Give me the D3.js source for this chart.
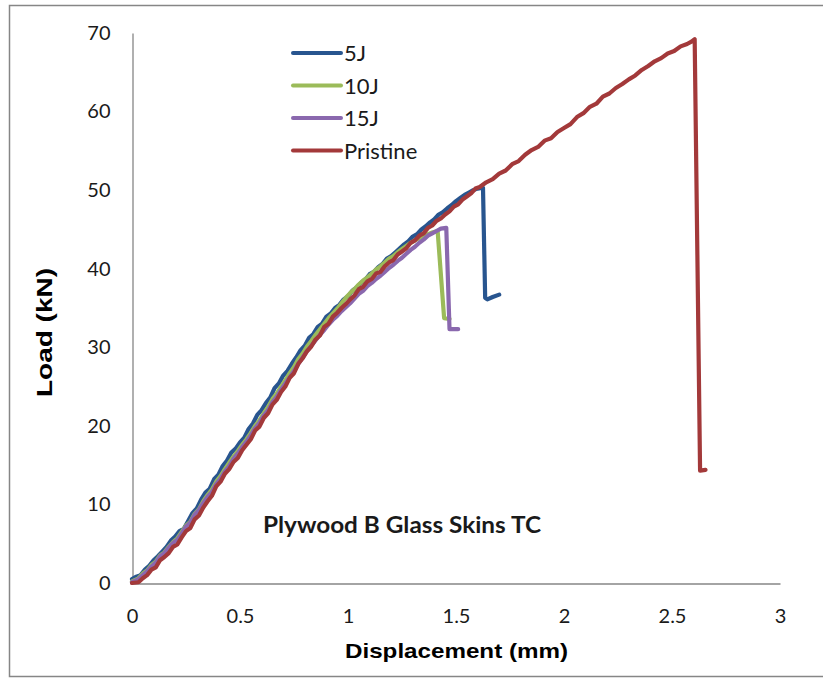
<!DOCTYPE html>
<html><head><meta charset="utf-8">
<script src="https://cdn.jsdelivr.net/npm/d3@7"></script>
<style>body{margin:0;background:#fff}svg{display:block}</style>
</head><body>
<svg id="c" width="823" height="678"></svg>
<script>
const seriesNames = ["5J","10J","15J","Pristine"];
const seriesColors = ["#28558f","#9bbb59","#8a68ae","#a3393a"];
const xTicks = [0,0.5,1,1.5,2,2.5,3];
const yTicks = [0,10,20,30,40,50,60,70];

const s5J_x = [0.00,0.02,0.04,0.06,0.08,0.10,0.12,0.14,0.16,0.18,0.20,0.22,0.24,0.26,0.28,0.30,0.32,0.34,0.36,0.38,0.40,0.42,0.44,0.46,0.48,0.50,0.52,0.54,0.56,0.58,0.60,0.62,0.64,0.66,0.68,0.70,0.72,0.74,0.76,0.78,0.80,0.82,0.84,0.86,0.88,0.90,0.92,0.94,0.96,0.98,1.00,1.02,1.04,1.06,1.08,1.10,1.12,1.14,1.16,1.18,1.20,1.22,1.24,1.26,1.28,1.30,1.32,1.34,1.36,1.38,1.40,1.42,1.44,1.46,1.48,1.50,1.52,1.54,1.56,1.58,1.60,1.625,1.635,1.645,1.67,1.70];
const s5J_y = [0.5,0.8,1.0,1.7,2.2,2.9,3.4,4.0,4.6,5.4,5.9,6.6,6.9,7.9,8.9,9.5,10.6,11.5,12.0,13.2,13.8,14.9,15.6,16.6,17.1,17.9,18.5,19.6,20.3,21.4,22.0,22.9,23.6,24.8,25.4,26.4,27.0,27.9,28.7,29.6,30.2,31.2,31.7,32.6,33.0,33.9,34.3,35.0,35.4,36.1,36.5,37.2,37.6,38.2,38.6,39.3,39.6,40.2,40.6,41.3,41.6,42.1,42.6,43.1,43.5,44.1,44.4,45.0,45.4,45.9,46.3,46.9,47.2,47.7,48.1,48.6,49.0,49.4,49.7,50.0,50.2,50.3,36.3,36.1,36.4,36.7];

const s10J_x = [0.00,0.03,0.05,0.07,0.09,0.11,0.13,0.15,0.17,0.19,0.21,0.23,0.25,0.27,0.29,0.31,0.33,0.35,0.37,0.39,0.41,0.43,0.45,0.47,0.49,0.51,0.53,0.55,0.57,0.59,0.61,0.63,0.65,0.67,0.69,0.71,0.73,0.75,0.77,0.79,0.81,0.83,0.85,0.87,0.89,0.91,0.93,0.95,0.97,0.99,1.01,1.03,1.05,1.07,1.09,1.11,1.13,1.15,1.17,1.19,1.21,1.23,1.25,1.27,1.29,1.31,1.33,1.35,1.37,1.39,1.415,1.445,1.47];
const s10J_y = [0.2,0.6,1.2,1.6,2.3,2.7,3.5,3.9,4.6,5.2,5.7,6.5,7.3,7.8,8.8,9.4,10.4,11.2,11.9,12.9,13.6,14.5,15.3,16.1,16.8,17.6,18.3,19.1,20.0,20.7,21.6,22.4,23.4,24.1,25.0,25.8,26.7,27.5,28.5,29.2,30.1,30.8,31.6,32.3,33.0,33.7,34.3,34.9,35.6,36.3,36.9,37.4,38.0,38.5,38.9,39.4,39.9,40.3,40.8,41.3,41.6,42.1,42.5,42.9,43.3,43.6,43.9,44.2,44.4,44.6,44.8,33.7,33.6];

const s15J_x = [0.00,0.03,0.05,0.07,0.09,0.11,0.13,0.15,0.17,0.19,0.21,0.23,0.25,0.27,0.29,0.31,0.33,0.35,0.37,0.39,0.41,0.43,0.45,0.47,0.49,0.51,0.53,0.55,0.57,0.59,0.61,0.63,0.65,0.67,0.69,0.71,0.73,0.75,0.77,0.79,0.81,0.83,0.85,0.87,0.89,0.91,0.93,0.95,0.97,0.99,1.01,1.03,1.05,1.07,1.09,1.11,1.13,1.15,1.17,1.19,1.21,1.23,1.25,1.27,1.29,1.31,1.33,1.35,1.37,1.39,1.41,1.43,1.455,1.47,1.51];
const s15J_y = [0.1,0.5,1.0,1.5,2.1,2.6,3.4,3.8,4.5,5.1,5.5,6.3,7.2,7.7,8.7,9.3,10.2,11.0,11.6,12.6,13.3,14.2,14.9,15.8,16.5,17.3,18.0,18.8,19.7,20.4,21.3,22.0,23.0,23.7,24.6,25.4,26.2,27.0,27.9,28.7,29.5,30.2,30.9,31.6,32.2,32.9,33.5,34.0,34.6,35.1,35.6,36.2,36.8,37.2,37.8,38.2,38.7,39.1,39.6,40.1,40.5,41.0,41.4,41.9,42.4,42.8,43.3,43.7,44.2,44.5,44.8,45.1,45.2,32.3,32.3];

const sPristine_x = [0.00,0.03,0.05,0.07,0.09,0.11,0.13,0.15,0.17,0.19,0.21,0.23,0.25,0.27,0.29,0.31,0.33,0.35,0.37,0.39,0.41,0.43,0.45,0.47,0.49,0.51,0.53,0.55,0.57,0.59,0.61,0.63,0.65,0.67,0.69,0.71,0.73,0.75,0.77,0.79,0.81,0.83,0.85,0.87,0.89,0.91,0.93,0.95,0.97,0.99,1.01,1.03,1.05,1.07,1.09,1.11,1.13,1.15,1.17,1.19,1.21,1.23,1.25,1.27,1.29,1.31,1.33,1.35,1.37,1.39,1.41,1.43,1.45,1.47,1.49,1.51,1.53,1.55,1.57,1.59,1.61,1.64,1.67,1.70,1.73,1.76,1.79,1.82,1.85,1.88,1.91,1.94,1.97,2.00,2.03,2.06,2.09,2.12,2.15,2.18,2.21,2.24,2.27,2.30,2.33,2.36,2.39,2.42,2.45,2.48,2.51,2.54,2.57,2.59,2.605,2.63,2.655];
const sPristine_y = [0.0,0.1,0.6,1.0,1.7,2.0,2.9,3.3,3.8,4.6,4.9,5.8,6.6,7.0,8.1,8.6,9.6,10.4,11.1,12.3,12.9,13.9,14.5,15.4,15.9,16.9,17.6,18.3,19.4,19.9,21.0,21.6,22.7,23.3,24.3,25.0,26.1,26.7,27.9,28.6,29.5,30.1,31.0,31.5,32.6,33.0,33.9,34.4,35.0,35.5,36.1,36.6,37.4,37.7,38.4,38.7,39.4,39.6,40.3,40.8,41.1,41.8,42.2,42.6,43.3,43.6,44.2,44.5,45.2,45.5,46.1,46.4,46.9,47.3,47.9,48.2,48.8,49.2,49.6,50.2,50.4,51.0,51.4,52.1,52.5,53.3,53.7,54.5,55.1,55.5,56.3,56.6,57.4,57.9,58.4,59.3,59.8,60.6,61.0,61.9,62.3,63.0,63.5,64.1,64.6,65.3,65.8,66.4,66.8,67.4,67.7,68.3,68.6,68.9,69.2,14.3,14.4];

const seriesX = [s5J_x, s10J_x, s15J_x, sPristine_x];
const seriesY = [s5J_y, s10J_y, s15J_y, sPristine_y];

const svg = d3.select("#c");
const x = d3.scaleLinear().domain([0,3]).range([132,780]);
const y = d3.scaleLinear().domain([0,70]).range([583,33]);
const axisColor = "#868686";
const bodyFont = "Lato, 'Open Sans', sans-serif";
const titleFont = "'Liberation Sans', Arial, sans-serif";

// outer chart border
svg.append("rect").attr("x",9.5).attr("y",5.5).attr("width",830).attr("height",671)
  .attr("fill","none").attr("stroke",axisColor).attr("stroke-width",1.5);

// axes
const gx = svg.append("g").attr("transform","translate(0,583.5)")
  .call(d3.axisBottom(x).tickValues(xTicks).tickSize(0).tickPadding(25).tickFormat(d3.format("")));
const gy = svg.append("g").attr("transform","translate(132.5,0)")
  .call(d3.axisLeft(y).tickValues(yTicks).tickSize(0).tickPadding(22).tickFormat(d3.format("d")));
[gx,gy].forEach(g=>{
  g.select(".domain").attr("stroke",axisColor).attr("stroke-width",1.3);
  g.selectAll("text").style("font-size","20px").style("font-family",bodyFont).attr("fill","#1a1a1a");
});

// series
const line = d3.line().x(d=>x(d[0])).y(d=>y(d[1])).curve(d3.curveLinear);
seriesNames.forEach((name,i)=>{
  const pts = seriesX[i].map((v,j)=>[v, seriesY[i][j]]);
  svg.append("path").datum(pts).attr("d",line).attr("fill","none")
    .attr("stroke",seriesColors[i]).attr("stroke-width",4.2)
    .attr("stroke-linejoin","round").attr("stroke-linecap","round");
});

// legend
const lg = svg.append("g");
seriesNames.forEach((name,i)=>{
  const yy = 53 + i*32.5;
  lg.append("line").attr("x1",293).attr("x2",341).attr("y1",yy).attr("y2",yy)
    .attr("stroke",seriesColors[i]).attr("stroke-width",4).attr("stroke-linecap","round");
  lg.append("text").attr("x",344).attr("y",yy+8).style("font-family",bodyFont)
    .style("font-size","22px").attr("fill","#1a1a1a").text(name);
});

// titles
svg.append("text").attr("x",345).attr("y",658)
  .style("font-family",titleFont).style("font-size","21px").style("font-weight","bold").attr("fill","#000")
  .attr("textLength",223).attr("lengthAdjust","spacingAndGlyphs").text("Displacement (mm)");
svg.append("text").attr("transform","translate(52,332.5) rotate(-90)").attr("text-anchor","middle")
  .style("font-family",titleFont).style("font-size","22px").style("font-weight","bold").attr("fill","#000")
  .attr("textLength",129).attr("lengthAdjust","spacingAndGlyphs").text("Load (kN)");
svg.append("text").attr("x",263).attr("y",533)
  .style("font-family",bodyFont).style("font-size","22px").style("font-weight","bold").attr("fill","#1a1a1a")
  .attr("textLength",278).attr("lengthAdjust","spacingAndGlyphs").text("Plywood B Glass Skins TC");
</script>
</body></html>
